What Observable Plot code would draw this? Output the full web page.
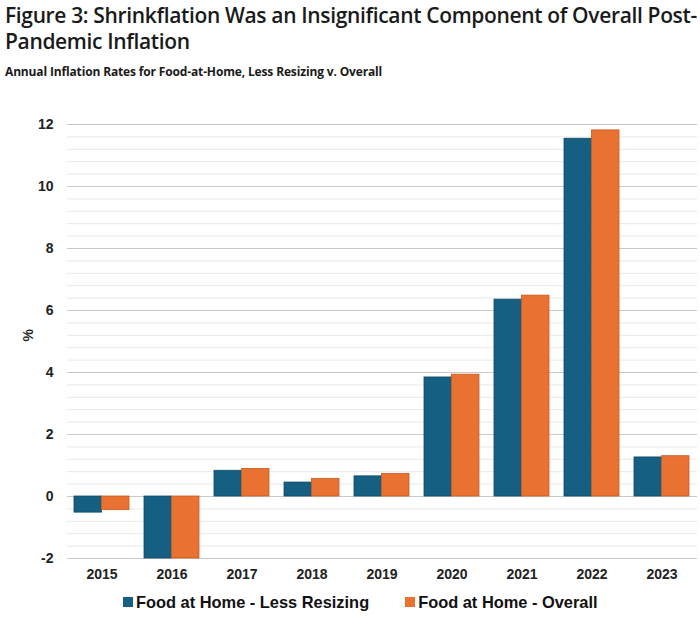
<!DOCTYPE html>
<html>
<head>
<meta charset="utf-8">
<script src="https://cdn.jsdelivr.net/npm/d3@7"></script>
<script src="https://cdn.jsdelivr.net/npm/@observablehq/plot@0.6"></script>
<style>
  body { margin: 0; background: #fff; width: 700px; height: 626px; overflow: hidden; }
  #header { position: relative; height: 90px; }
  #title { position: absolute; left: 5px; top: 2px; font-family: "Open Sans", sans-serif; font-weight: 600; font-size: 21px; line-height: 26px; color: #1a1a1a; white-space: nowrap; letter-spacing: -0.35px; }
  #subtitle { position: absolute; left: 5px; top: 63px; font-family: "Open Sans", sans-serif; font-weight: 700; font-size: 12px; color: #1a1a1a; white-space: nowrap; letter-spacing: -0.15px; }
  #legend { display: flex; align-items: center; margin-left: 123px; height: 24px; font-family: "Liberation Sans", Arial, sans-serif; font-weight: bold; font-size: 16.4px; color: #111; }
  .sw { width: 10px; height: 10px; display: inline-block; margin-right: 3px; }
  .item { display: flex; align-items: center; margin-right: 36px; }
</style>
</head>
<body>
<div id="header">
  <div id="title">Figure 3: Shrinkflation Was an Insignificant Component of Overall Post-<br>Pandemic Inflation</div>
  <div id="subtitle">Annual Inflation Rates for Food-at-Home, Less Resizing v. Overall</div>
</div>
<div id="chart"></div>
<div id="legend"></div>
<script>
const years = ["2015", "2016", "2017", "2018", "2019", "2020", "2021", "2022", "2023"];
const lessResizing = [-0.52, -2.0, 0.83, 0.45, 0.65, 3.84, 6.35, 11.54, 1.26];
const overall = [-0.44, -2.0, 0.89, 0.57, 0.73, 3.93, 6.48, 11.81, 1.30];
const seriesNames = ["Food at Home - Less Resizing", "Food at Home - Overall"];
const seriesColors = ["#156082", "#E97132"];
const seriesStrokes = ["#0f4a66", "#c65c22"];
const yTicks = [-2, 0, 2, 4, 6, 8, 10, 12];
const minorGrid = d3.range(-2, 12.001, 0.4).map(v => +v.toFixed(2));

const rows = years.map((year, i) => ({year, less: lessResizing[i], overall: overall[i]}));

const plot = Plot.plot({
  width: 700,
  height: 500,
  marginTop: 34,
  marginBottom: 32,
  marginLeft: 67,
  marginRight: 3,
  x: {type: "band", domain: years, paddingInner: 0.214, paddingOuter: 0.107},
  y: {domain: [-2, 12]},
  style: {fontFamily: "'Liberation Sans', Arial, sans-serif"},
  marks: [
    Plot.ruleY(minorGrid, {stroke: "#e8e8e8", strokeWidth: 1}),
    Plot.ruleY(yTicks, {stroke: "#c9c9c9", strokeWidth: 1}),
    Plot.barY(rows, {x: "year", y: "less", fill: seriesColors[0], stroke: seriesStrokes[0], strokeWidth: 0.8, insetRight: 27.5}),
    Plot.barY(rows, {x: "year", y: "overall", fill: seriesColors[1], stroke: seriesStrokes[1], strokeWidth: 0.8, insetLeft: 27.5}),
    Plot.axisY({ticks: yTicks, tickFormat: d => String(d), tickSize: 0, tickPadding: 14, label: null, fontSize: 14, fontWeight: "bold", fill: "#222"}),
    Plot.axisX({tickSize: 0, tickPadding: 11, label: null, fontSize: 14, fontWeight: "bold", fill: "#222"}),
    Plot.text(["%"], {frameAnchor: "left", dx: -39, rotate: -90, fontSize: 14, fontWeight: "bold", fill: "#222"})
  ]
});
document.getElementById("chart").appendChild(plot);

const legend = document.getElementById("legend");
seriesNames.forEach((name, i) => {
  const item = document.createElement("div");
  item.className = "item";
  const sw = document.createElement("span");
  sw.className = "sw";
  sw.style.background = seriesColors[i];
  item.appendChild(sw);
  item.appendChild(document.createTextNode(name));
  legend.appendChild(item);
});
</script>
</body>
</html>
